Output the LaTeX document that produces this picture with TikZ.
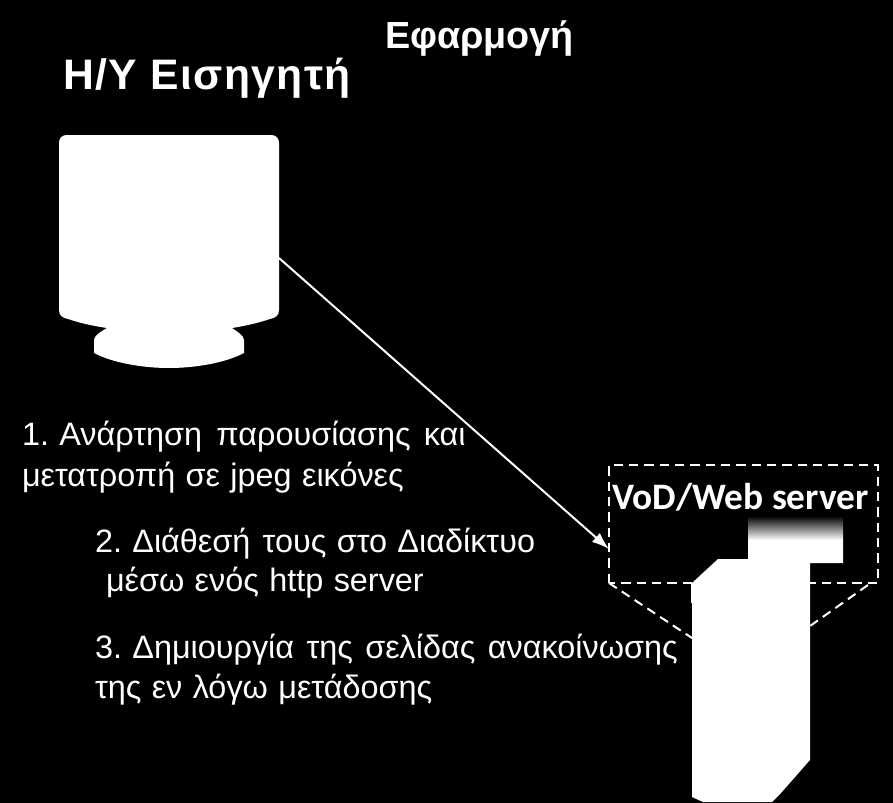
\documentclass[tikz,border=0pt]{standalone}
\usepackage{fontspec}
\usetikzlibrary{arrows.meta}
\setmainfont[WordSpace=1.15]{Liberation Sans}
\newfontfamily\carl{Carlito}
\newfontfamily\spaced[LetterSpace=3.4]{Liberation Sans}
\frenchspacing
\begin{document}
\begin{tikzpicture}[x=0.75pt,y=-0.75pt,
  shapefill/.style={fill=white,draw=none},
  dashline/.style={draw=white,line width=1.5pt,dash pattern=on 7pt off 4.5pt},
  body/.style={anchor=base west,text=white,inner sep=0pt,outer sep=0pt,font=\fontsize{24.3}{28}\selectfont},
  head/.style={anchor=base west,text=white,inner sep=0pt,outer sep=0pt,font=\fontsize{28.3}{32}\selectfont\bfseries},
  headwide/.style={anchor=base west,text=white,inner sep=0pt,outer sep=0pt,font=\spaced\fontsize{32}{36}\selectfont\bfseries}]
\useasboundingbox (0,0) rectangle (893,803);
\fill[black] (0,0) rectangle (893,803);
% monitor
\fill[shapefill] (67,135) -- (271,135) .. controls (276,135) and (279,138) .. (279,143) -- (279,310)
  .. controls (279,316) and (275,318) .. (270,319)
  .. controls (258,323) and (245,326) .. (232,328)
  .. controls (238,332) and (244,336) .. (244,340) -- (244,353)
  .. controls (225,363) and (195,368) .. (169,368)
  .. controls (143,368) and (113,363) .. (94,353) -- (94,340)
  .. controls (94,336) and (100,332) .. (107,328)
  .. controls (93,326) and (80,323) .. (68,319)
  .. controls (63,318) and (59,316) .. (59,310) -- (59,143)
  .. controls (59,138) and (62,135) .. (67,135) -- cycle;
% server
\fill[shapefill] (692,583) -- (718,559) -- (748,559) -- (748,540) -- (843,540) -- (843,563) -- (810,563)
  -- (810,760) -- (781,793) -- (772,802) -- (703,802) -- (692,797) -- (692,603) -- (691,603) -- (691,583) -- cycle;
\shade[top color=black,bottom color=white,draw=none] (748,516) rectangle (843,540);
% dashed frame
\coordinate (boxTL) at (609,465);
\coordinate (boxBR) at (878,583);
\coordinate (boxBL) at (609,583);
\coordinate (boxBRr) at (868,585);
\coordinate (srvL) at (692,638);
\coordinate (srvR) at (810,626);
\draw[dashline] (boxBL) -- (boxTL) -- (boxTL -| boxBR) -- (boxBR) -- (boxBR -| srvR);
\draw[dashline] (692,583) -- (boxBL);
\draw[dashline] (boxBL) -- (srvL);
\draw[dashline] (boxBRr) -- (srvR);
% arrow
\coordinate (monR) at (279,258);
\coordinate (boxArrow) at (609,549);
\draw[white,line width=1.5pt,-{Latex[length=13pt,width=9pt]}] (monR) -- (boxArrow);
% text
\node[head] (t1) at (385,48) {Εφαρμογή};
\node[headwide] (t2) at (63,89) {Η/Υ Εισηγητή};
\node[body] (l1) at (22,445.5) {1. Ανάρτηση\hspace{3pt} παρουσίασης\hspace{2pt} και};
\node[body] (l2) at (22,486) {μετατροπή σε jpeg εικόνες};
\node[body] (l3) at (95,552) {2. Διάθεσή\hspace{1.5pt} τους στο Διαδίκτυο};
\node[body] (l4) at (106,591.5) {μέσω ενός http server};
\node[body] (l5) at (95,658) {3. Δημιουργία\hspace{1.5pt} της\hspace{1.5pt} σελίδας\hspace{1.5pt} ανακοίνωσης};
\node[body] (l6) at (95,698) {της εν λόγω μετάδοσης};
\node[anchor=base west,text=white,inner sep=0pt,font=\carl\bfseries\fontsize{28}{32}\selectfont] (srv) at (612,509) {VoD/Web server};
\end{tikzpicture}
\end{document}
